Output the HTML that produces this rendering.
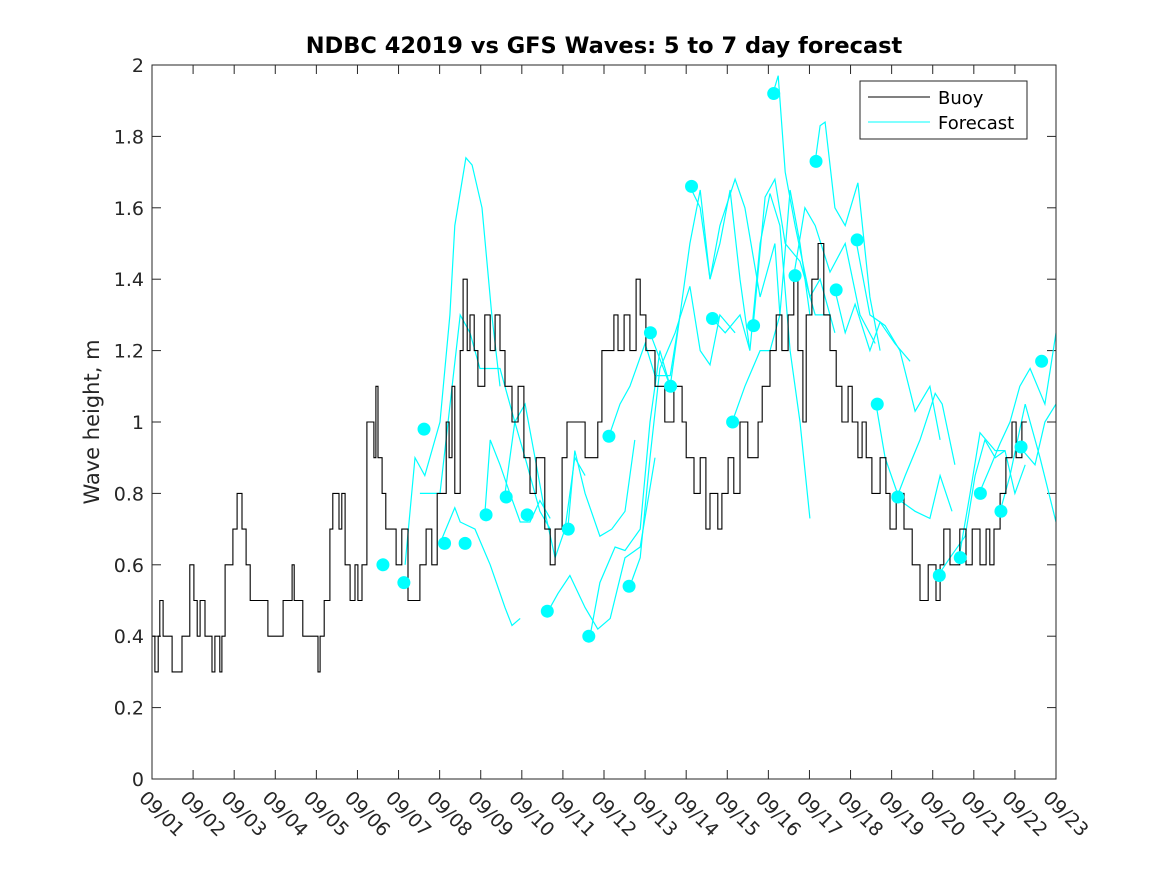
<!DOCTYPE html>
<html><head><meta charset="utf-8">
<style>
html,body{margin:0;padding:0;background:#fff;}
svg{display:block;font-family:"DejaVu Sans","Liberation Sans",sans-serif;}
</style></head>
<body>
<svg id="chart" width="1167" height="875" viewBox="0 0 1167 875" xmlns="http://www.w3.org/2000/svg">
<rect x="0" y="0" width="1167" height="875" fill="#fff"/>
<text x="604" y="53" text-anchor="middle" font-size="22.5" font-weight="bold" fill="#000">NDBC 42019 vs GFS Waves: 5 to 7 day forecast</text>
<text transform="translate(99,422) rotate(-90)" text-anchor="middle" font-size="21" fill="#262626">Wave height, m</text>
<g id="plot"></g>
<rect x="152" y="65" width="904" height="714" fill="none" stroke="#262626" stroke-width="1"/>
<g>
<rect x="860" y="81" width="167" height="58" fill="#fff" stroke="#262626" stroke-width="1"/>
<line x1="868" y1="97" x2="930" y2="97" stroke="#000" stroke-width="1"/>
<text x="938" y="104" font-size="18" fill="#000">Buoy</text>
<line x1="868" y1="122" x2="930" y2="122" stroke="#00ffff" stroke-width="1"/>
<text x="938" y="129" font-size="18" fill="#000">Forecast</text>
</g>
</svg>
<script>
const xTickLabels = ["09/01","09/02","09/03","09/04","09/05","09/06","09/07","09/08","09/09","09/10","09/11","09/12","09/13","09/14","09/15","09/16","09/17","09/18","09/19","09/20","09/21","09/22","09/23"];
const yTicks = [0,0.2,0.4,0.6,0.8,1,1.2,1.4,1.6,1.8,2];
const buoyDays = [0,0.07,0.15,0.19,0.27,0.49,0.73,0.92,1.02,1.10,1.17,1.29,1.46,1.53,1.65,1.70,1.78,1.97,2.07,2.19,2.29,2.39,2.82,3.19,3.41,3.46,3.67,4.04,4.09,4.19,4.33,4.40,4.55,4.62,4.70,4.82,4.94,5.01,5.11,5.23,5.40,5.45,5.50,5.60,5.69,5.94,6.08,6.23,6.52,6.67,6.81,6.94,7.16,7.23,7.30,7.37,7.50,7.57,7.67,7.74,7.84,7.93,8.10,8.23,8.35,8.47,8.59,8.76,8.91,9.05,9.20,9.35,9.56,9.69,9.81,9.98,10.10,10.54,10.85,10.95,11.10,11.24,11.34,11.49,11.63,11.78,11.88,12.02,12.24,12.48,12.70,12.90,13.00,13.19,13.34,13.48,13.58,13.77,13.87,14.02,14.16,14.31,14.50,14.75,14.85,15.04,15.19,15.33,15.48,15.62,15.72,15.84,15.92,16.06,16.21,16.35,16.50,16.65,16.79,16.94,17.04,17.18,17.28,17.38,17.52,17.72,17.86,17.96,18.11,18.30,18.50,18.69,18.89,19.08,19.18,19.27,19.42,19.66,19.81,19.96,20.15,20.30,20.39,20.49,20.64,20.78,20.93,21.03,21.17,21.29];
const buoyVals = [0.4,0.3,0.4,0.5,0.4,0.3,0.4,0.6,0.5,0.4,0.5,0.4,0.3,0.4,0.3,0.4,0.6,0.7,0.8,0.7,0.6,0.5,0.4,0.5,0.6,0.5,0.4,0.3,0.4,0.5,0.7,0.8,0.7,0.8,0.6,0.5,0.6,0.5,0.6,1.0,0.9,1.1,0.9,0.8,0.7,0.6,0.7,0.5,0.6,0.7,0.6,0.8,1.0,0.9,1.1,0.8,1.2,1.4,1.2,1.3,1.2,1.1,1.3,1.2,1.3,1.2,1.1,1.0,1.1,0.9,0.8,0.9,0.7,0.6,0.7,0.9,1.0,0.9,1.0,1.2,1.2,1.3,1.2,1.3,1.2,1.4,1.3,1.2,1.1,1.0,1.1,1.0,0.9,0.8,0.9,0.7,0.8,0.7,0.8,0.9,0.8,1.0,0.9,1.0,1.1,1.2,1.3,1.2,1.3,1.4,1.2,1.0,1.3,1.4,1.5,1.3,1.2,1.1,1.0,1.1,1.0,0.9,1.0,0.9,0.8,0.9,0.8,0.7,0.8,0.7,0.6,0.5,0.6,0.5,0.6,0.7,0.6,0.7,0.6,0.7,0.6,0.7,0.6,0.7,0.8,0.9,1.0,0.9,1.0,1.0];
const dotDays = [5.62,6.13,6.62,7.12,7.62,8.13,8.62,9.13,9.62,10.13,10.63,11.12,11.61,12.13,12.62,13.13,13.64,14.13,14.64,15.13,15.65,16.16,16.65,17.16,17.65,18.15,19.16,19.67,20.16,20.66,21.15,21.65];
const dotVals = [0.60,0.55,0.98,0.66,0.66,0.74,0.79,0.74,0.47,0.70,0.40,0.96,0.54,1.25,1.10,1.66,1.29,1.00,1.27,1.92,1.41,1.73,1.37,1.51,1.05,0.79,0.57,0.62,0.80,0.75,0.93,1.17];
const fcDays = [
 [6.16,6.40,6.64,7.01,7.25,7.37,7.64,7.79,8.03,8.27,8.47],
 [7.01,7.37,7.50,7.86,8.23,8.59,8.76,8.96],
 [6.52,7.01,7.50,7.74,7.98,8.47,8.83,9.08,9.44,9.69],
 [8.10,8.23,8.47,8.71,8.96,9.20,9.44,9.69],
 [8.59,8.83,9.08,9.32,9.56,9.81,10.05,10.29,10.54],
 [9.64,9.88,10.17,10.54,10.85,11.15,11.51,11.88,12.24],
 [10.12,10.29,10.54,10.90,11.19,11.51,11.75],
 [10.66,10.90,11.27,11.51,11.88,12.12,12.36,12.61],
 [11.12,11.39,11.63,12.00,12.24,12.61,12.85],
 [11.63,11.88,12.12,12.36,12.73,13.09,13.34,13.58,13.82,14.19],
 [12.12,12.61,13.09,13.34,13.58,13.82,14.07,14.31,14.55],
 [13.09,13.34,13.58,13.82,14.19,14.43,14.80,15.16,15.28],
 [13.63,13.95,14.31,14.55,14.80,15.04,15.28,15.53,15.77,16.01],
 [14.12,14.43,14.80,15.04,15.28,15.53,15.77,16.01],
 [14.63,14.92,15.16,15.41,15.77,16.14,16.50],
 [15.11,15.24,15.41,15.65,16.01,16.26,16.62],
 [15.62,15.89,16.14,16.50,16.87,17.23,17.60],
 [16.14,16.26,16.38,16.62,16.87,17.18,17.47,17.72],
 [16.62,16.87,17.11,17.47,17.72,18.08,18.45],
 [17.13,17.47,17.84,18.20,18.57,18.93,19.18],
 [17.62,17.84,18.20,18.57,18.93,19.18,19.47],
 [18.13,18.33,18.69,19.06,19.23,19.54],
 [19.13,19.42,19.79,20.03,20.27,20.52,20.76],
 [19.64,19.91,20.15,20.52,20.76,21.00,21.25],
 [20.13,20.39,20.64,20.88,21.12,21.37,21.73,22.0],
 [20.64,20.88,21.25,21.61,22.0],
 [21.12,21.49,21.73,22.0]
];
const fcVals = [
 [0.60,0.90,0.85,1.00,1.30,1.55,1.74,1.72,1.60,1.30,1.10],
 [0.66,0.76,0.72,0.70,0.60,0.48,0.43,0.45],
 [0.80,0.80,1.30,1.25,1.15,1.15,1.00,0.90,0.75,0.70],
 [0.74,0.95,0.88,0.80,0.72,0.72,0.78,0.73],
 [0.80,1.00,1.05,0.90,0.75,0.62,0.70,0.90,0.85],
 [0.47,0.52,0.57,0.48,0.42,0.45,0.62,0.65,0.90],
 [0.70,0.92,0.80,0.68,0.70,0.75,0.95],
 [0.40,0.55,0.65,0.64,0.70,1.00,1.20,1.10],
 [0.96,1.05,1.10,1.22,1.13,1.13,1.30],
 [0.54,0.62,0.90,1.15,1.25,1.38,1.20,1.16,1.30,1.25],
 [1.25,1.10,1.50,1.65,1.40,1.50,1.65,1.40,1.20],
 [1.66,1.60,1.40,1.55,1.68,1.60,1.35,1.50,1.30],
 [1.29,1.25,1.30,1.20,1.50,1.64,1.55,1.20,1.00,0.73],
 [1.00,1.10,1.20,1.20,1.30,1.65,1.50,1.30],
 [1.27,1.63,1.68,1.50,1.45,1.30,1.30],
 [1.92,1.97,1.70,1.55,1.35,1.40,1.25],
 [1.41,1.60,1.55,1.42,1.50,1.30,1.22],
 [1.73,1.83,1.84,1.60,1.55,1.67,1.35,1.20],
 [1.37,1.25,1.33,1.20,1.28,1.22,1.17],
 [1.51,1.30,1.27,1.20,1.03,1.10,0.95],
 [1.05,0.90,0.78,0.75,0.73,0.85,0.75],
 [0.79,0.85,0.95,1.08,1.05,0.88],
 [0.57,0.62,0.68,0.85,0.95,0.90,0.92],
 [0.62,0.80,0.97,0.92,0.92,0.80,0.88],
 [0.80,0.87,0.94,1.00,1.10,1.15,1.05,1.25],
 [0.75,0.85,1.05,0.90,0.72],
 [0.93,0.88,1.00,1.05]
];

const NS = "http://www.w3.org/2000/svg";
const X0 = 152, X1 = 1056, Y0 = 779, Y1 = 65, DAYS = 22, YMAX = 2;
function xs(d){ return X0 + (X1 - X0) * d / DAYS; }
function ys(v){ return Y0 - (Y0 - Y1) * v / YMAX; }
const plot = document.getElementById('plot');
function mk(tag, attrs, parent){
  const e = document.createElementNS(NS, tag);
  for (const k in attrs) e.setAttribute(k, attrs[k]);
  (parent || plot).appendChild(e);
  return e;
}
xTickLabels.forEach((lab, i) => {
  const x = xs(i);
  const t1 = mk('line', {x1:x, y1:Y0, x2:x, y2:Y0-9, stroke:'#262626'});
  
  
  const t2 = mk('line', {x1:x, y1:Y1, x2:x, y2:Y1+9, stroke:'#262626'});
  
  
  const tx = mk('text', {transform:'translate(' + (x-14) + ',' + (Y0+20) + ') rotate(45)', 'font-size':19, fill:'#262626'});
  tx.textContent = lab;
  
  
});
yTicks.forEach(v => {
  const y = ys(v);
  const t1 = mk('line', {x1:X0, y1:y, x2:X0+9, y2:y, stroke:'#262626'});
  
  
  const t2 = mk('line', {x1:X1, y1:y, x2:X1-9, y2:y, stroke:'#262626'});
  
  
  const tx = mk('text', {x:X0-8, y:y+7, 'text-anchor':'end', 'font-size':19, fill:'#262626'});
  tx.textContent = String(v);
  
  
});
fcDays.forEach((ds, k) => {
  const pts = ds.map((d, i) => xs(d).toFixed(1) + ',' + ys(fcVals[k][i]).toFixed(1)).join(' ');
  const pl = mk('polyline', {points:pts, fill:'none', stroke:'#00ffff', 'stroke-width':1.2});
  
  
});
let d = '';
buoyDays.forEach((day, i) => {
  const x = xs(day).toFixed(1), y = ys(buoyVals[i]).toFixed(1);
  if (i === 0) d += 'M' + x + ',' + y;
  else d += 'H' + x + 'V' + y;
});
const bp = mk('path', {d:d, fill:'none', stroke:'#000', 'stroke-width':1.1});


dotDays.forEach((day, i) => {
  const c = mk('circle', {cx:xs(day), cy:ys(dotVals[i]), r:6.5, fill:'#00ffff'});
  
  
});
</script>
</body></html>
